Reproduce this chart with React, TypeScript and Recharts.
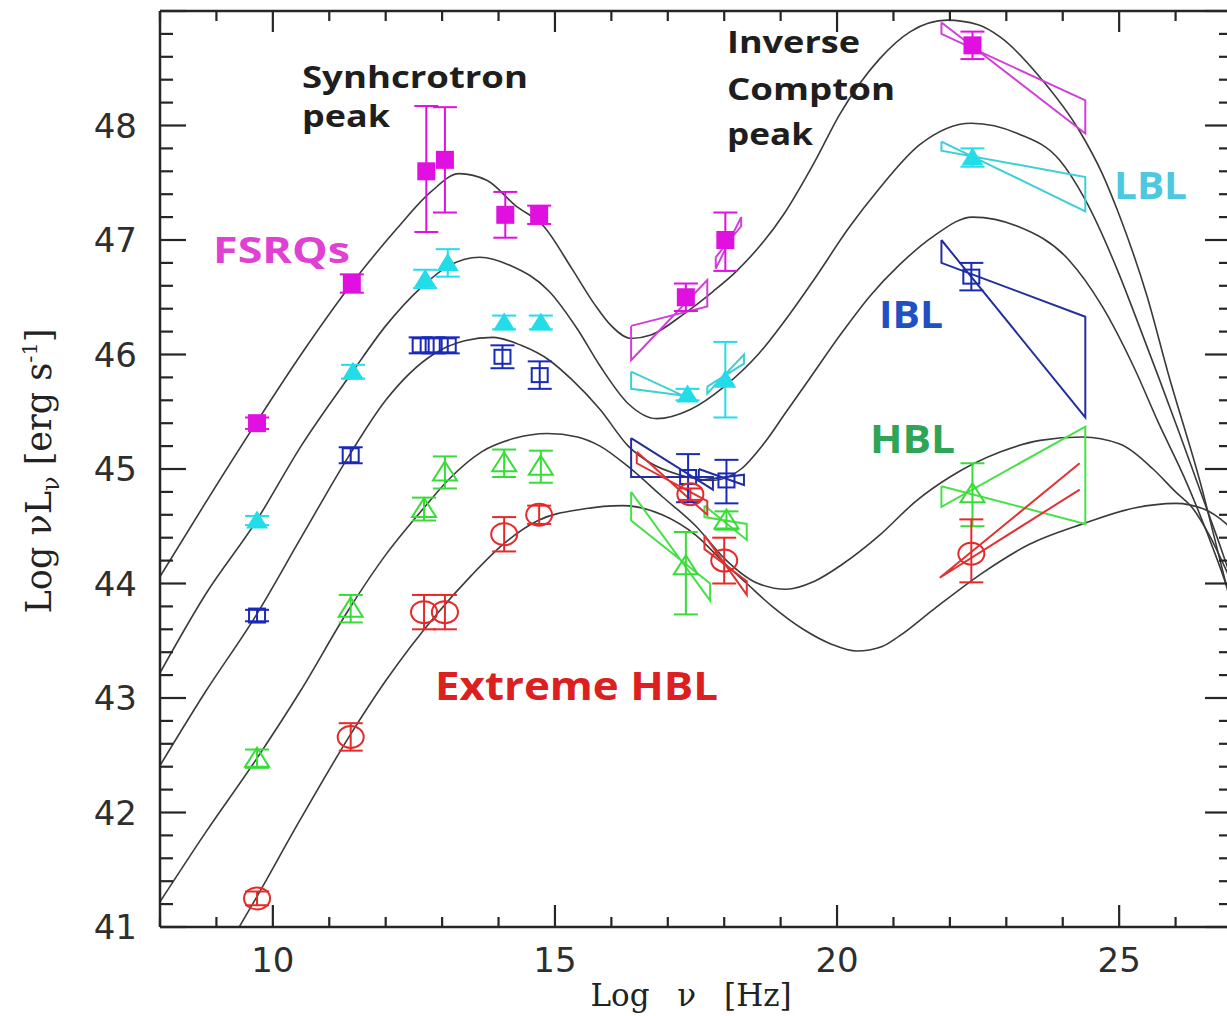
import React from "react";
import { ComposedChart, Line, Scatter, XAxis, YAxis, ErrorBar } from "recharts";

// axis ticks (log nu in Hz, log nuL_nu in erg/s)
const xTicks = [8, 9, 10, 11, 12, 13, 14, 15, 16, 17, 18, 19, 20, 21, 22, 23, 24, 25, 26, 27];
const yTicks = [
  41, 41.2, 41.4, 41.6, 41.8, 42, 42.2, 42.4, 42.6, 42.8, 43, 43.2, 43.4, 43.6, 43.8,
  44, 44.2, 44.4, 44.6, 44.8, 45, 45.2, 45.4, 45.6, 45.8, 46, 46.2, 46.4, 46.6, 46.8,
  47, 47.2, 47.4, 47.6, 47.8, 48, 48.2, 48.4, 48.6, 48.8, 49,
];
const yLabels = [41, 42, 43, 44, 45, 46, 47, 48];

// model SEDs (black curves), [log nu, log nuLnu]
const fsrqCurve = [
  [8.0, 44.06], [8.8, 44.7], [9.7, 45.4], [10.5, 46.0], [11.4, 46.62], [12.2, 47.1],
  [12.8, 47.42], [13.3, 47.58], [13.8, 47.52], [14.3, 47.3], [14.8, 47.12], [15.3, 46.75],
  [15.7, 46.44], [16.0, 46.25], [16.35, 46.14], [16.7, 46.17], [17.3, 46.36], [17.8, 46.55],
  [18.2, 46.72], [19.05, 47.22], [19.6, 47.68], [20.05, 48.1], [20.75, 48.58], [21.3, 48.82],
  [21.95, 48.92], [22.5, 48.88], [22.9, 48.77], [23.6, 48.42], [24.3, 47.95], [24.7, 47.58],
  [25.0, 47.22], [25.5, 46.5], [25.86, 45.85], [26.45, 44.86], [26.8, 44.18], [27.3, 43.2],
];
const lblCurve = [
  [8.0, 43.22], [8.8, 43.9], [9.7, 44.54], [10.5, 45.2], [11.4, 45.84], [12.0, 46.25],
  [12.66, 46.6], [13.1, 46.77], [13.67, 46.85], [14.2, 46.78], [14.9, 46.55], [15.4, 46.22],
  [15.8, 45.9], [16.3, 45.57], [16.8, 45.44], [17.4, 45.52], [18.0, 45.72], [18.6, 46.0],
  [19.2, 46.38], [19.6, 46.66], [20.2, 47.1], [20.75, 47.45], [21.46, 47.83], [22.38, 48.02],
  [23.2, 47.93], [23.94, 47.7], [24.4, 47.35], [25.0, 46.7], [25.3, 46.32], [25.7, 45.8],
  [26.04, 45.35], [26.4, 44.86], [26.76, 44.37], [27.3, 43.6],
];
const iblCurve = [
  [8.0, 42.41], [8.8, 43.05], [9.7, 43.72], [10.5, 44.4], [11.33, 45.1], [12.0, 45.6],
  [12.84, 46.0], [13.4, 46.12], [13.9, 46.15], [14.4, 46.08], [14.9, 45.95], [15.3, 45.78],
  [15.8, 45.52], [16.3, 45.2], [16.7, 45.05], [17.2, 44.95], [17.8, 44.9], [18.3, 45.0],
  [18.7, 45.22], [19.1, 45.5], [19.5, 45.78], [20.1, 46.2], [20.6, 46.52], [21.1, 46.78],
  [21.7, 47.03], [22.4, 47.2], [23.2, 47.12], [24.1, 46.83], [24.7, 46.42], [25.27, 45.88],
  [25.7, 45.4], [26.16, 44.92], [26.76, 44.18], [27.3, 43.4],
];
const hblCurve = [
  [8.0, 41.22], [8.8, 41.82], [9.7, 42.46], [10.5, 43.07], [11.33, 43.76], [12.0, 44.25],
  [12.66, 44.65], [13.1, 44.9], [13.7, 45.15], [14.3, 45.27], [14.86, 45.31], [15.4, 45.28],
  [15.8, 45.2], [16.3, 45.02], [16.9, 44.76], [17.5, 44.5], [18.0, 44.22], [18.6, 44.0],
  [19.1, 43.95], [19.6, 44.02], [20.1, 44.17], [20.75, 44.42], [21.4, 44.72], [22.0, 44.93],
  [22.9, 45.15], [23.6, 45.25], [24.35, 45.28], [25.0, 45.22], [25.6, 45.0], [26.0, 44.8],
  [26.3, 44.66], [26.6, 44.42], [26.93, 44.08], [27.3, 43.65],
];
const xhblCurve = [
  [9.0, 40.66], [9.7, 41.25], [10.5, 41.95], [11.35, 42.66], [12.0, 43.15], [12.9, 43.73],
  [13.5, 44.06], [14.1, 44.35], [14.7, 44.55], [15.5, 44.65], [16.2, 44.68], [16.9, 44.6],
  [17.5, 44.42], [18.0, 44.18], [18.4, 44.0], [18.85, 43.8], [19.4, 43.6], [19.9, 43.47],
  [20.35, 43.41], [20.8, 43.45], [21.1, 43.54], [21.7, 43.77], [22.6, 44.1], [23.4, 44.34],
  [24.35, 44.52], [25.27, 44.66], [26.0, 44.7], [26.5, 44.65], [26.9, 44.52], [27.3, 44.3],
];

// averaged data points: [log nu, log nuLnu, err below, err above]
const fsrqPoints = [
  [9.72, 45.4, 0.05, 0.05], [11.4, 46.62, 0.08, 0.08], [12.72, 47.6, 0.53, 0.57],
  [13.05, 47.7, 0.46, 0.46], [14.12, 47.22, 0.2, 0.2], [14.72, 47.22, 0.08, 0.08],
  [17.32, 46.5, 0.12, 0.12], [18.02, 47.0, 0.27, 0.24], [22.4, 48.7, 0.12, 0.12],
];
const lblPoints = [
  [9.72, 44.55, 0.04, 0.04], [11.42, 45.85, 0.06, 0.06], [12.7, 46.66, 0.08, 0.08],
  [13.1, 46.8, 0.12, 0.12], [14.1, 46.28, 0.06, 0.06], [14.75, 46.28, 0.06, 0.06],
  [17.35, 45.65, 0.05, 0.05], [18.02, 45.78, 0.33, 0.33], [22.4, 47.72, 0.08, 0.08],
];
const iblPoints = [
  [9.72, 43.72, 0.05, 0.05], [11.38, 45.12, 0.07, 0.07], [12.62, 46.08, 0.07, 0.07],
  [12.85, 46.08, 0.07, 0.07], [13.1, 46.08, 0.07, 0.07], [14.07, 45.98, 0.1, 0.1],
  [14.73, 45.82, 0.12, 0.12], [17.36, 44.93, 0.22, 0.2], [18.04, 44.9, 0.2, 0.18],
  [22.38, 46.68, 0.12, 0.12],
];
const hblPoints = [
  [9.72, 42.47, 0.08, 0.08], [11.38, 43.78, 0.12, 0.12], [12.68, 44.65, 0.1, 0.1],
  [13.05, 44.97, 0.14, 0.14], [14.1, 45.05, 0.12, 0.12], [14.75, 45.02, 0.14, 0.14],
  [17.32, 44.15, 0.42, 0.3], [18.04, 44.55, 0.08, 0.08], [22.4, 44.78, 0.28, 0.27],
];
const xhblPoints = [
  [9.72, 41.25, 0.06, 0.06], [11.38, 42.66, 0.12, 0.12], [12.68, 43.75, 0.15, 0.15],
  [13.05, 43.75, 0.15, 0.15], [14.1, 44.43, 0.15, 0.15], [14.72, 44.6, 0.08, 0.08],
  [17.4, 44.78, 0.05, 0.05], [18.0, 44.2, 0.2, 0.2], [22.38, 44.26, 0.25, 0.3],
];

// bowties (X-ray and gamma-ray spectra), outline vertices
const fsrqBowX = [[16.35, 46.25], [17.7, 46.42], [17.7, 46.65], [16.35, 45.95], [16.35, 46.25]];
const fsrqBowX2 = [[17.85, 46.85], [18.3, 47.12], [18.3, 47.2], [17.85, 46.75], [17.85, 46.85]];
const fsrqBowG = [[21.85, 48.9], [24.4, 47.93], [24.4, 48.22], [21.85, 48.8], [21.85, 48.9]];
const lblBowX = [[16.35, 45.85], [17.45, 45.6], [17.45, 45.63], [16.35, 45.7], [16.35, 45.85]];
const lblBowX2 = [[17.7, 45.72], [18.35, 45.92], [18.35, 46.0], [17.7, 45.66], [17.7, 45.72]];
const lblBowG = [[21.85, 47.86], [24.4, 47.25], [24.4, 47.55], [21.85, 47.78], [21.85, 47.86]];
const iblBowX = [[16.35, 45.27], [17.8, 44.82], [17.8, 44.93], [16.35, 44.93], [16.35, 45.27]];
const iblBowX2 = [[17.55, 45.0], [18.35, 44.86], [18.35, 44.95], [17.55, 44.9], [17.55, 45.0]];
const iblBowG = [[21.85, 47.0], [24.4, 45.45], [24.4, 46.33], [21.85, 46.8], [21.85, 47.0]];
const hblBowX = [[16.35, 44.8], [17.75, 43.85], [17.75, 44.0], [16.35, 44.55], [16.35, 44.8]];
const hblBowX2 = [[17.65, 44.68], [18.4, 44.38], [18.4, 44.52], [17.65, 44.58], [17.65, 44.68]];
const hblBowG = [[21.85, 44.85], [24.4, 44.52], [24.4, 45.37], [21.85, 44.67], [21.85, 44.85]];
const xhblBowX = [[16.45, 45.15], [17.7, 44.6], [17.7, 44.72], [16.45, 45.05], [16.45, 45.15]];
const xhblBowX2 = [[17.65, 44.42], [18.4, 43.9], [18.4, 44.02], [17.65, 44.3], [17.65, 44.42]];
const xhblBowG = [[24.3, 45.05], [21.82, 44.05], [24.3, 44.82]];

const AXIS = "#262626";
const CURVE = "#3a3a3a";

const toXY = (arr) => arr.map(([x, y]) => ({ x, y }));
const toPts = (arr) => arr.map(([x, y, lo, hi]) => ({ x, y, err: [lo, hi] }));

const groups = [
  { id: "fsrq", color: "#e010e0", bow: "#d040d8", kind: "sqFilled", points: fsrqPoints, bows: [fsrqBowX, fsrqBowX2, fsrqBowG] },
  { id: "lbl", color: "#22dde8", bow: "#3ccfd8", kind: "triFilled", points: lblPoints, bows: [lblBowX, lblBowX2, lblBowG] },
  { id: "ibl", color: "#1a2ab8", bow: "#23309c", kind: "sqOpen", points: iblPoints, bows: [iblBowX, iblBowX2, iblBowG] },
  { id: "hbl", color: "#35dd35", bow: "#48e048", kind: "triOpen", points: hblPoints, bows: [hblBowX, hblBowX2, hblBowG] },
  { id: "xhbl", color: "#e42a2a", bow: "#e03232", kind: "circOpen", points: xhblPoints, bows: [xhblBowX, xhblBowX2, xhblBowG] },
];

const curves = [fsrqCurve, lblCurve, iblCurve, hblCurve, xhblCurve];

function marker(kind, color) {
  return (props) => {
    const { cx, cy } = props;
    if (cx == null || cy == null) return <g />;
    if (kind === "sqFilled")
      return <rect x={cx - 9} y={cy - 9} width={18} height={18} fill={color} />;
    if (kind === "triFilled")
      return <polygon points={`${cx},${cy - 10} ${cx + 11},${cy + 8} ${cx - 11},${cy + 8}`} fill={color} />;
    if (kind === "sqOpen")
      return <rect x={cx - 8} y={cy - 7} width={16} height={14} fill="none" stroke={color} strokeWidth={2} />;
    if (kind === "triOpen")
      return <polygon points={`${cx},${cy - 11} ${cx + 12},${cy + 8} ${cx - 12},${cy + 8}`} fill="none" stroke={color} strokeWidth={2} />;
    return <ellipse cx={cx} cy={cy} rx={13} ry={11} fill="none" stroke={color} strokeWidth={2} />;
  };
}

const isMajorY = (v) => Math.abs(v - Math.round(v)) < 1e-6;
const numFont = "'DejaVu Sans', sans-serif";

const leftTick = (p) => {
  const v = p.payload.value;
  const major = isMajorY(v);
  const labelled = major && yLabels.includes(Math.round(v));
  return (
    <g>
      <line x1={p.x} x2={p.x + (major ? 26 : 13)} y1={p.y} y2={p.y} stroke={AXIS} strokeWidth={2.2} />
      {labelled && (
        <text x={p.x - 23} y={p.y + 12} textAnchor="end" fontFamily={numFont} fontSize={34} fill="#2e2e2e">
          {Math.round(v)}
        </text>
      )}
    </g>
  );
};
const rightTick = (p) => {
  const major = isMajorY(p.payload.value);
  return <line x1={p.x} x2={p.x - (major ? 27 : 13)} y1={p.y} y2={p.y} stroke={AXIS} strokeWidth={2.2} />;
};
const bottomTick = (p) => {
  const v = p.payload.value;
  const major = v % 5 === 0;
  return (
    <g>
      <line x1={p.x} x2={p.x} y1={p.y} y2={p.y - (major ? 22 : 10)} stroke={AXIS} strokeWidth={2.2} />
      {major && (
        <text x={p.x} y={p.y + 45} textAnchor="middle" fontFamily={numFont} fontSize={34} fill="#2e2e2e">
          {v}
        </text>
      )}
    </g>
  );
};
const topTick = (p) => {
  const major = p.payload.value % 5 === 0;
  return <line x1={p.x} x2={p.x} y1={p.y} y2={p.y + (major ? 21 : 10)} stroke={AXIS} strokeWidth={2.2} />;
};

const notes = [
  { text: "Synhcrotron", x: 302, y: 88, w: 226, size: 31, color: "#1e1e1e" },
  { text: "peak", x: 302, y: 127, w: 88, size: 31, color: "#1e1e1e" },
  { text: "Inverse", x: 727, y: 53, w: 133, size: 31, color: "#1e1e1e" },
  { text: "Compton", x: 727, y: 100, w: 168, size: 31, color: "#1e1e1e" },
  { text: "peak", x: 727, y: 145, w: 86, size: 31, color: "#1e1e1e" },
  { text: "FSRQs", x: 213, y: 263, w: 137, size: 35, color: "#e040d4" },
  { text: "LBL", x: 1114, y: 199, w: 73, size: 38, color: "#4cc8e0" },
  { text: "IBL", x: 879, y: 328, w: 64, size: 38, color: "#2050c4" },
  { text: "HBL", x: 870, y: 453, w: 85, size: 40, color: "#2ea456" },
  { text: "Extreme HBL", x: 435, y: 700, w: 283, size: 40, color: "#dc2020" },
];

export default function App() {
  const axisLine = { stroke: AXIS, strokeWidth: 2.5 };
  return (
    <div style={{ position: "absolute", left: 0, top: 0, width: 1227, height: 1016, overflow: "hidden", background: "#fff" }}>
      <ComposedChart width={1240} height={1016} margin={{ top: 0, right: 0, bottom: 0, left: 0 }}>
        <XAxis dataKey="x" type="number" domain={[8, 27]} ticks={xTicks} interval={0} allowDataOverflow
          height={89} tickSize={0} tickMargin={0} tickLine={false} axisLine={axisLine} tick={bottomTick} />
        <XAxis xAxisId="top" orientation="top" dataKey="x" type="number" domain={[8, 27]} ticks={xTicks} interval={0}
          allowDataOverflow height={11} tickSize={0} tickMargin={0} tickLine={false} axisLine={axisLine} tick={topTick} />
        <YAxis dataKey="y" type="number" domain={[41, 49]} ticks={yTicks} interval={0} allowDataOverflow
          width={160} tickSize={0} tickMargin={0} tickLine={false} axisLine={axisLine} tick={leftTick} />
        <YAxis yAxisId="right" orientation="right" type="number" domain={[41, 49]} ticks={yTicks} interval={0}
          allowDataOverflow width={8} tickSize={0} tickMargin={0} tickLine={false} axisLine={axisLine} tick={rightTick} />

        {curves.map((c, i) => (
          <Line key={`curve${i}`} data={toXY(c)} dataKey="y" type="monotone" stroke={CURVE} strokeWidth={1.6}
            dot={false} activeDot={false} isAnimationActive={false} />
        ))}

        {groups.flatMap((g) =>
          g.bows.map((b, j) => (
            <Line key={`${g.id}bow${j}`} data={toXY(b)} dataKey="y" type="linear" stroke={g.bow} strokeWidth={2}
              dot={false} activeDot={false} isAnimationActive={false} />
          ))
        )}

        {groups.map((g) => (
          <Scatter key={g.id} data={toPts(g.points)} dataKey="y" shape={marker(g.kind, g.color)} isAnimationActive={false}>
            <ErrorBar dataKey="err" direction="y" width={12} stroke={g.color} strokeWidth={2} isAnimationActive={false} />
          </Scatter>
        ))}
      </ComposedChart>

      <svg width={1227} height={1016} style={{ position: "absolute", left: 0, top: 0, pointerEvents: "none" }}>
        {notes.map((n, i) => (
          <text key={i} x={n.x} y={n.y} textLength={n.w} lengthAdjust="spacingAndGlyphs"
            fontFamily="'Open Sans', sans-serif" fontWeight={700} fontSize={n.size} fill={n.color}>
            {n.text}
          </text>
        ))}
        <text transform="translate(51,471) rotate(-90)" textAnchor="middle" fontFamily="'DejaVu Serif', serif" fontSize={35} fill="#222">
          Log νL<tspan fontSize={24} dy={8}>ν</tspan>
          <tspan dy={-8}> [erg s</tspan>
          <tspan fontSize={21} dy={-14}>-1</tspan>
          <tspan dy={14}>]</tspan>
        </text>
        <text x={691} y={1006} textAnchor="middle" fontFamily="'DejaVu Serif', serif" fontSize={31} fill="#222" style={{ wordSpacing: 18 }}>
          Log ν [Hz]
        </text>
      </svg>
    </div>
  );
}
